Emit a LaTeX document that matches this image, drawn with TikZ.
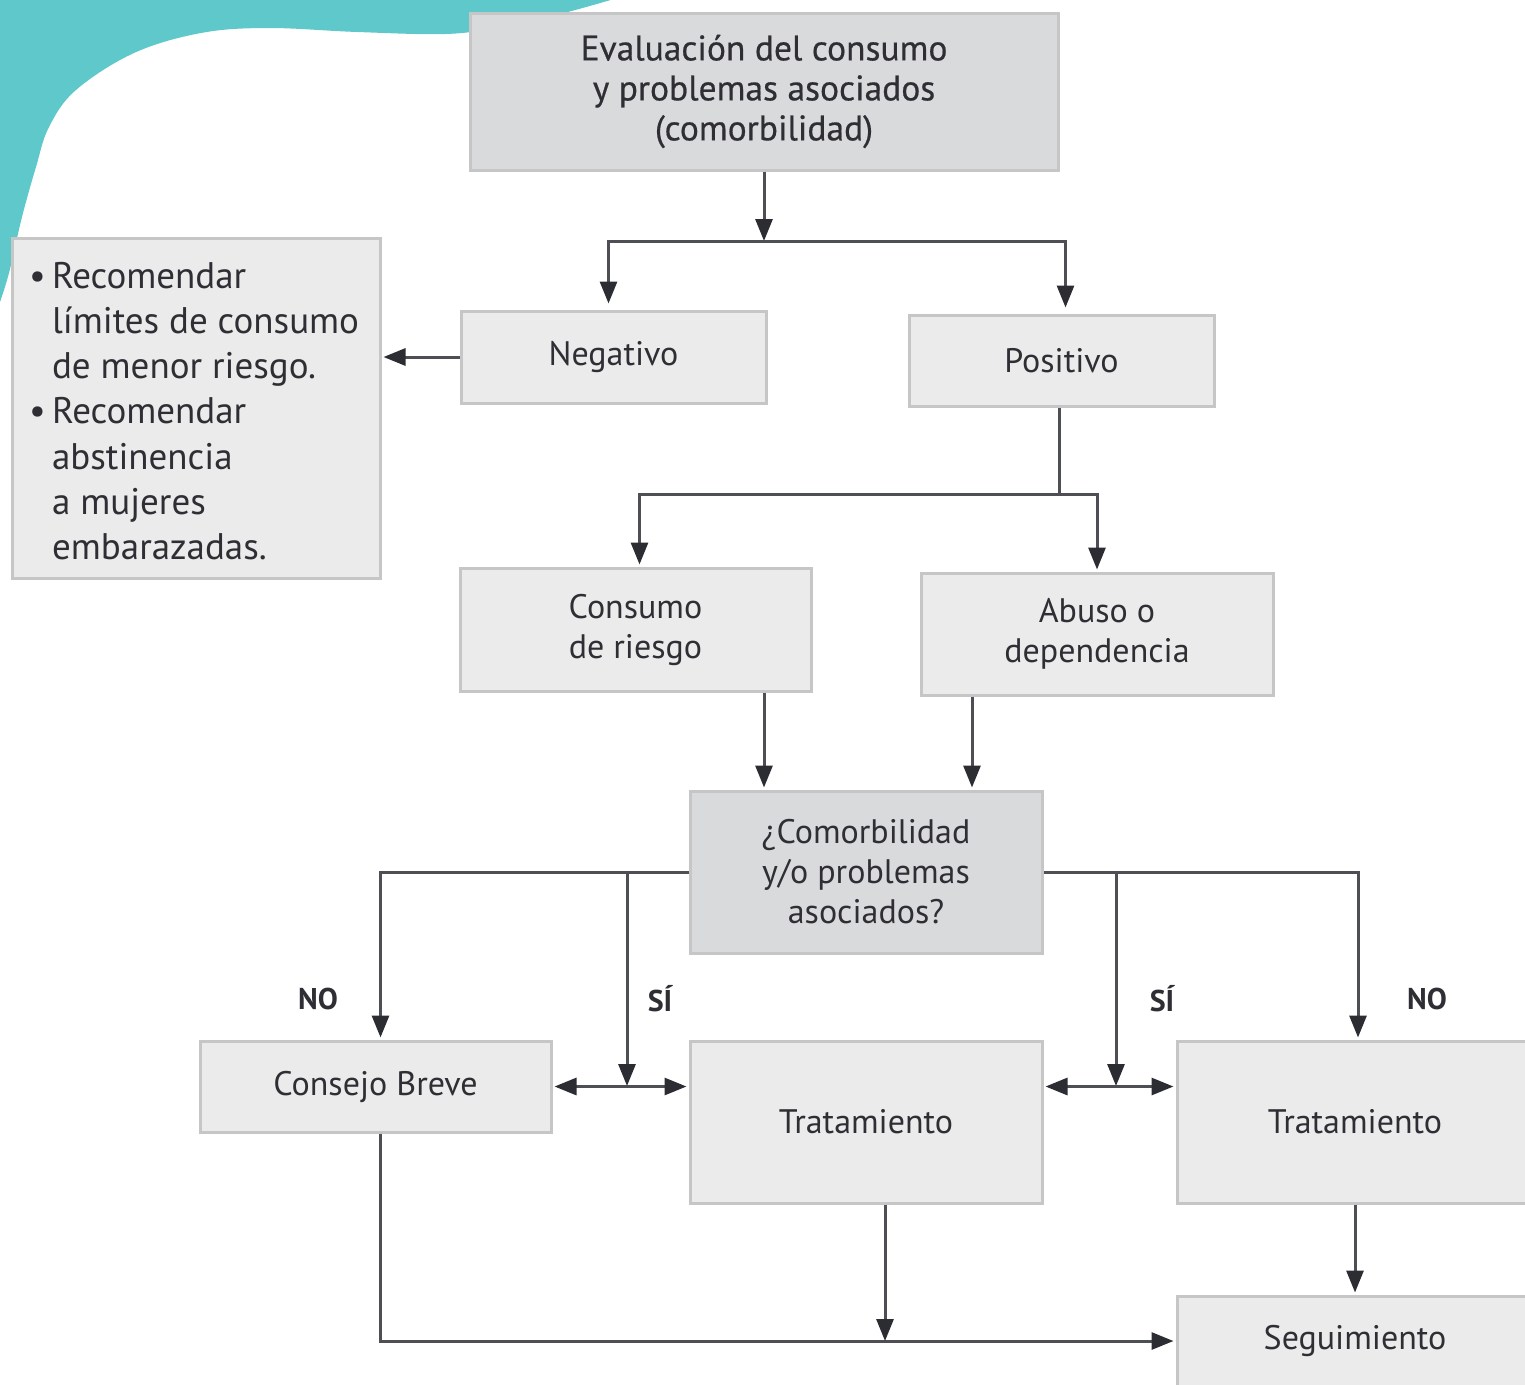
\documentclass[tikz,border=0pt]{standalone}
\usepackage{fontspec}
\setmainfont{PT Sans}
\newfontfamily\semifont[FakeBold=0.5]{PT Sans}
\usetikzlibrary{arrows.meta,calc}
\definecolor{boxfill}{HTML}{EBEBEB}
\definecolor{darkfill}{HTML}{D9DADC}
\definecolor{boxline}{HTML}{C6C6C6}
\definecolor{conn}{HTML}{4E4F55}
\definecolor{tipc}{HTML}{2B2D33}
\definecolor{txt}{HTML}{2E2E34}
\definecolor{tealc}{HTML}{5EC8CA}
\begin{document}
\begin{tikzpicture}[x=1pt,y=-1pt,
  box/.style={draw=boxline,line width=3pt,fill=boxfill,text=txt,align=center,inner sep=0pt,font=\fontsize{34}{40}\selectfont},
  dbox/.style={box,fill=darkfill},
  line/.style={draw=conn,line width=3pt},
  arr/.style={line,-{Triangle[length=22pt,width=17pt,color=tipc]},shorten >=2pt},
  arrtwo/.style={line,{Triangle[length=22pt,width=17pt,color=tipc]}-{Triangle[length=22pt,width=17pt,color=tipc]},shorten >=2pt,shorten <=2pt},
  lab/.style={text=txt,font=\fontsize{30}{34}\selectfont\bfseries,inner sep=0pt}]
\useasboundingbox (0,0) rectangle (1525,1384);
\fill[tealc] plot[smooth,tension=0.6] coordinates {(614,-1) (560,14) (500,27) (446,34) (357,32) (268,28) (201,33) (134,53) (76,90) (49,127) (36,167) (22,217) (9,273) (-1,305)} -- (-1,-1) -- cycle;

\node[dbox,minimum width=588,minimum height=157,font=\fontsize{35.5}{40}\selectfont\semifont] (eval) at (764,91.5) {Evaluación del consumo\\y problemas asociados\\(comorbilidad)};
\node[box,minimum width=368,minimum height=340] (bul) at (196,408) {};
\node[text=txt,anchor=west,align=left,inner sep=0pt,font=\fontsize{37}{45.2}\selectfont] (bultext) at (29,411)
 {\textbullet\,Recomendar\\\hphantom{\textbullet\,}límites de consumo\\\hphantom{\textbullet\,}de menor riesgo.\\\textbullet\,Recomendar\\\hphantom{\textbullet\,}abstinencia\\\hphantom{\textbullet\,}a mujeres\\\hphantom{\textbullet\,}embarazadas.};
\node[box,minimum width=305,minimum height=92] (neg) at (613.5,357) {Negativo};
\node[box,minimum width=305,minimum height=91] (pos) at (1061.5,360.5) {Positivo};
\node[box,minimum width=351,minimum height=123] (cons) at (635.5,629.5) {Consumo\\de riesgo};
\node[box,minimum width=352,minimum height=122] (abu) at (1097,634) {Abuso o\\dependencia};
\node[dbox,minimum width=352,minimum height=162] (com) at (866,872) {¿Comorbilidad\\y/o problemas\\asociados?};
\node[box,minimum width=351,minimum height=91] (cb) at (375.5,1086.5) {Consejo Breve};
\node[box,minimum width=352,minimum height=162] (tm) at (866,1122) {Tratamiento};
\node[box,minimum width=356,minimum height=162,text width=352] (tr) at (1355,1122) {Tratamiento};
\node[box,minimum width=356,minimum height=90,text width=352] (seg) at (1355,1341) {Seguimiento};

\node[lab] (no1) at (318,999) {NO};
\node[lab] (si1) at (660,999) {SÍ};
\node[lab] (si2) at (1162,999) {SÍ};
\node[lab] (no2) at (1427,999) {NO};

% top split
\coordinate (j1) at (764,241);
\draw[arr,shorten >=0pt] (eval.south) -- (j1);
\draw[arr,shorten >=6pt] (j1) -| ([xshift=-5]neg.north);
\draw[arr,shorten >=6pt] (j1) -| ([xshift=4]pos.north);
\draw[arr] (neg.west) -- (neg.west -| bul.east);
% positivo split
\coordinate (j2) at ([xshift=-2,yshift=-87]pos.south);
\draw[line] ([xshift=-2]pos.south) -- (j2);
\draw[arr] (j2) -| ([xshift=4]cons.north);
\draw[arr] (j2) -| (abu.north);
% into comorbidity
\draw[arr] ([xshift=-102]com.north |- cons.south) -- ([xshift=-102]com.north);
\draw[arr] ([xshift=106]com.north |- abu.south) -- ([xshift=106]com.north);
% left branch
\coordinate (jl) at (627,872);
\coordinate (jl2) at (627,1086);
\draw[arr] (com.west) -| ([xshift=5]cb.north);
\draw[arr,shorten >=0pt] (jl) -- (jl2);
\draw[arrtwo] (cb.east) -- (cb.east -| tm.west);
% right branch
\coordinate (jr) at (1116,872);
\coordinate (jr2) at (1116,1086);
\draw[arr] (com.east) -| ([xshift=3]tr.north);
\draw[arr,shorten >=0pt] (jr) -- (jr2);
\draw[arrtwo] (tm.east |- cb.east) -- (tr.west |- cb.east);
% to seguimiento
\draw[arr] ([xshift=5]cb.south) |- (seg.west);
\draw[arr,shorten >=0pt] ([xshift=19]tm.south) -- ([xshift=19]tm.south |- seg.west);
\draw[arr] (tr.south) -- (seg.north);
\end{tikzpicture}
\end{document}
